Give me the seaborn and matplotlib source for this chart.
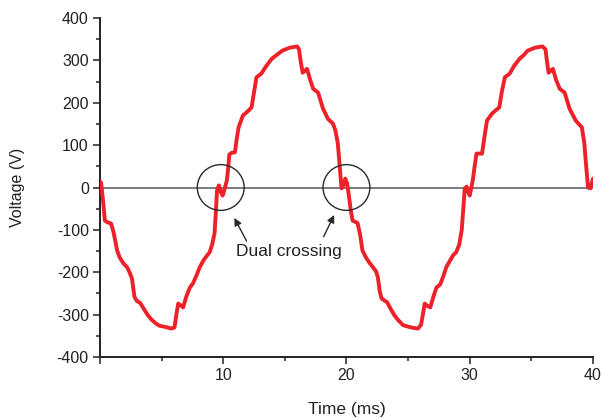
import matplotlib
matplotlib.use("Agg")
import matplotlib.pyplot as plt
from matplotlib.patches import Ellipse
from matplotlib.ticker import MultipleLocator
import seaborn as sns
import pandas as pd

# waveform: time (ms) and voltage (V)
time_ms = [
    0.0, 0.1, 0.25, 0.4, 0.6, 0.9, 1.1, 1.4, 1.6, 1.9, 2.2, 2.4, 2.6, 2.8, 3.0,
    3.25, 3.6, 3.9, 4.2, 4.5, 4.8, 5.3, 5.8, 6.05, 6.2, 6.35, 6.55, 6.75, 7.0,
    7.3, 7.55, 7.8, 8.1, 8.4, 8.7, 8.9, 9.1, 9.3, 9.4, 9.5, 9.65, 9.8, 9.95,
    10.1, 10.3, 10.4, 10.5, 10.7, 10.95, 11.1, 11.25, 11.6, 12.0, 12.3, 12.5,
    12.7, 13.1, 13.5, 13.95, 14.3, 14.8, 15.4, 16.0, 16.15, 16.3, 16.45, 16.8,
    17.05, 17.3, 17.7, 17.9, 18.1, 18.5, 18.9, 19.1, 19.3, 19.45, 19.6, 19.75,
    19.9, 20.05, 20.2, 20.35, 20.5, 20.9, 21.1, 21.3, 21.6, 21.9, 22.2, 22.4,
    22.55, 22.7, 22.85, 23.3, 23.6, 23.9, 24.2, 24.6, 25.2, 25.8, 26.05, 26.2,
    26.35, 26.55, 26.8, 27.05, 27.3, 27.6, 27.85, 28.1, 28.4, 28.65, 28.9,
    29.15, 29.35, 29.5, 29.6, 29.75, 29.9, 30.0, 30.1, 30.25, 30.4, 30.55,
    31.0, 31.2, 31.4, 31.8, 32.1, 32.4, 32.6, 32.85, 33.25, 33.6, 34.05, 34.4,
    34.7, 35.3, 35.9, 36.15, 36.28, 36.4, 36.75, 37.0, 37.3, 37.7, 37.9, 38.1,
    38.6, 39.1, 39.3, 39.45, 39.6, 39.8, 40.0,
]
voltage = [
    15, 10, -30, -78, -82, -85, -105, -149, -165, -179, -188, -200, -215, -258, -268,
    -272, -288, -302, -312, -320, -326, -329, -333, -330, -300, -274, -278, -283, -258,
    -236, -226, -210, -188, -172, -160, -153, -135, -108, -60, -7, 5, -10, -19,
    -5, 17, 45, 78, 82, 83, 115, 142, 170, 180, 189, 225,
    260, 269, 287, 304, 312, 323, 330, 333, 326, 295, 271, 280,
    255, 233, 224, 205, 186, 162, 151, 135, 104, 50, -2, 5,
    21, 10, -20, -54, -78, -84, -110, -149, -166, -179, -190, -198,
    -212, -245, -262, -271, -287, -302, -313, -325, -330, -333, -324, -300,
    -274, -279, -283, -258, -236, -229, -210, -188, -173, -160, -153,
    -135, -101, -40, -2, 2, -12, -19, -5, 17, 50, 80,
    80, 120, 158, 174, 182, 189, 225, 260, 269, 287, 304, 313,
    323, 330, 333, 326, 295, 271, 280, 255, 233, 224, 205, 186,
    158, 142, 104, 50, 0, -2, 21,
]

crossing_centers = [9.8, 20.0]
x_ticks = [0, 10, 20, 30, 40]
x_tick_labels = ["", "10", "20", "30", "40"]
y_ticks = [-400, -300, -200, -100, 0, 100, 200, 300, 400]

df = pd.DataFrame({"t": time_ms, "v": voltage})

sns.set_theme(style="ticks")
plt.rcParams["font.family"] = ["Liberation Sans", "DejaVu Sans"]
plt.rcParams["axes.unicode_minus"] = False

fig = plt.figure(figsize=(6.02, 4.19), dpi=100)
ax = fig.add_axes([0.166, 0.148, 0.819, 0.809])

ax.axhline(0, color="#666666", linewidth=1.2, zorder=1)
sns.lineplot(data=df, x="t", y="v", color="#ec2129", linewidth=2.8,
             estimator=None, sort=False, ax=ax, zorder=3)

for c in crossing_centers:
    ax.add_patch(Ellipse((c, 0), width=3.8, height=108, fill=False,
                         edgecolor="#2a2a2a", linewidth=1.0, zorder=4))

ax.annotate("", xy=(10.8, -66), xytext=(12.0, -132),
            arrowprops=dict(arrowstyle="-|>", color="#2a2a2a", lw=1.0,
                            mutation_scale=11))
ax.annotate("", xy=(19.1, -59), xytext=(18.05, -122),
            arrowprops=dict(arrowstyle="-|>", color="#2a2a2a", lw=1.0,
                            mutation_scale=11))
ax.text(15.3, -150, "Dual crossing", ha="center", va="center",
        fontsize=12.5, color="#222222")

ax.set_xlim(0, 40)
ax.set_ylim(-400, 400)
ax.set_xticks(x_ticks)
ax.set_xticklabels(x_tick_labels)
ax.set_yticks(y_ticks)
ax.xaxis.set_minor_locator(MultipleLocator(5))
ax.yaxis.set_minor_locator(MultipleLocator(50))
ax.tick_params(which="major", length=5, width=1.1, labelsize=11.5,
               color="#222222", labelcolor="#222222", pad=3)
ax.tick_params(which="minor", length=2.8, width=1.1, color="#222222")

ax.set_xlabel("Time (ms)", fontsize=12.5, color="#222222")
ax.set_ylabel("Voltage (V)", fontsize=11.5, color="#222222")
ax.xaxis.set_label_coords(0.5, -0.133)
ax.yaxis.set_label_coords(-0.152, 0.5)

sns.despine(ax=ax)
for s in ["left", "bottom"]:
    ax.spines[s].set_linewidth(1.4)
    ax.spines[s].set_color("#222222")

fig.savefig("out.png", dpi=100)
